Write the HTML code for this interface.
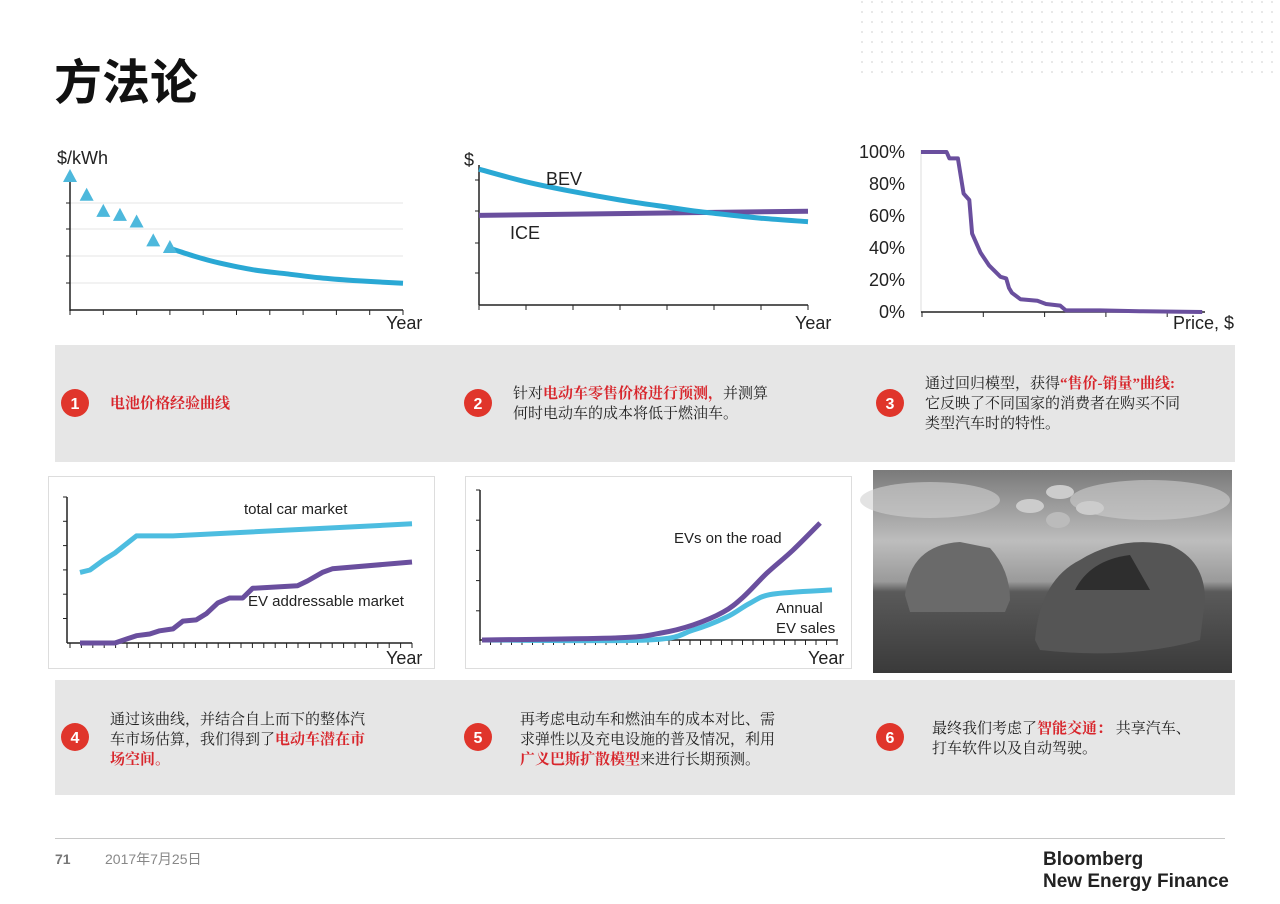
<!DOCTYPE html>
<html><head><meta charset="utf-8">
<style>
body{margin:0;background:#fff;}
#root{position:relative;width:1280px;height:904px;overflow:hidden;background:#fff;font-family:"Liberation Sans","Noto Sans CJK SC",sans-serif;}
svg text{font-family:"Liberation Sans","Noto Sans CJK SC",sans-serif;}
.t{position:absolute;font-family:"Liberation Serif","Noto Serif CJK SC",serif;font-size:15px;line-height:20px;color:#222;}
.r{color:#d8262c;font-weight:bold;}
</style></head>
<body>
<div id="root">
<svg id="s" width="1280" height="904">
<defs>
<pattern id="dots" width="10" height="10" patternUnits="userSpaceOnUse"><circle cx="2" cy="2" r="0.9" fill="#d8d8d8"/></pattern>
<linearGradient id="sky" x1="0" y1="0" x2="0" y2="1"><stop offset="0" stop-color="#7a7a7a"/><stop offset="0.35" stop-color="#bdbdbd"/><stop offset="0.55" stop-color="#9a9a9a"/><stop offset="0.6" stop-color="#5a5a5a"/><stop offset="1" stop-color="#3a3a3a"/></linearGradient>
</defs>
<rect x="860" y="0" width="420" height="75" fill="url(#dots)"/>
<text x="54" y="99" font-size="48" font-weight="bold" font-family="Liberation Sans, Noto Sans CJK SC, sans-serif" fill="#111">方法论</text>
<rect x="55" y="345" width="1180" height="117" fill="#e6e6e6"/>
<rect x="55" y="680" width="1180" height="115" fill="#e6e6e6"/>
<rect x="48.5" y="476.5" width="386" height="192" fill="#fff" stroke="#ddd"/>
<rect x="465.5" y="476.5" width="386" height="192" fill="#fff" stroke="#ddd"/>
<g>
<rect x="873" y="470" width="359" height="203" fill="url(#sky)"/>
<ellipse cx="930" cy="500" rx="70" ry="18" fill="#d0d0d0" opacity="0.6"/>
<ellipse cx="1150" cy="500" rx="80" ry="20" fill="#cfcfcf" opacity="0.6"/>
<path d="M905 595 Q910 545 960 542 L990 548 Q1010 570 1010 600 L1005 612 L910 612 Z" fill="#6a6a6a"/>
<path d="M1035 640 Q1040 580 1080 560 Q1120 535 1170 545 Q1205 560 1205 600 L1200 640 Q1130 660 1040 650 Z" fill="#555"/>
<path d="M1075 590 Q1090 560 1130 555 L1150 590 Z" fill="#2e2e2e"/>
<ellipse cx="1060" cy="492" rx="14" ry="7" fill="#ccc"/><ellipse cx="1030" cy="506" rx="14" ry="7" fill="#ccc"/><ellipse cx="1090" cy="508" rx="14" ry="7" fill="#ccc"/><ellipse cx="1058" cy="520" rx="12" ry="8" fill="#bbb"/>
</g>
<g id="c1"></g><g id="c2"></g><g id="c3"></g><g id="c4"></g><g id="c5"></g>
<line x1="55" y1="838.5" x2="1225" y2="838.5" stroke="#c8c8c8"/>
<text x="55" y="864" font-size="14" font-weight="bold" fill="#777">71</text>
<text x="105" y="864" font-size="14" fill="#888">2017年7月25日</text>
<text x="1043" y="865" font-size="19" font-weight="bold" fill="#222">Bloomberg</text>
<text x="1043" y="887" font-size="19" font-weight="bold" fill="#222">New Energy Finance</text>
</svg>

<div class="t" style="left:110px;top:394px;"><span class="r">电池价格经验曲线</span></div>
<div class="t" style="left:513px;top:384px;">针对<span class="r">电动车零售价格进行预测，</span>并测算<br>何时电动车的成本将低于燃油车。</div>
<div class="t" style="left:925px;top:374px;">通过回归模型，获得<span class="r">“售价-销量”曲线:</span><br>它反映了不同国家的消费者在购买不同<br>类型汽车时的特性。</div>
<div class="t" style="left:110px;top:710px;">通过该曲线，并结合自上而下的整体汽<br>车市场估算，我们得到了<span class="r">电动车潜在市<br>场空间。</span></div>
<div class="t" style="left:520px;top:710px;">再考虑电动车和燃油车的成本对比、需<br>求弹性以及充电设施的普及情况，利用<br><span class="r">广义巴斯扩散模型</span>来进行长期预测。</div>
<div class="t" style="left:932px;top:719px;">最终我们考虑了<span class="r">智能交通：</span> 共享汽车、<br>打车软件以及自动驾驶。</div>

<script>
// Chart 1: battery price
const c1Hist = [[0,100],[1,86],[2,74],[3,71],[4,66],[5,52],[6,47]];
const c1Fcst = [[6,46],[7.5,40],[9,35],[11,30],[13,27],[15,24],[17,22],[20,20]];
// Chart 2: BEV vs ICE
const c2Bev = [[0,97],[1,88],[2,81],[3,75],[4,70],[4.5,67.5],[5,65.5],[6,62],[7,59.5]];
const c2Ice = [[0,64],[7,67]];
// Chart 3: price-volume curve
const c3Price = [0,9,10,13,15,17,18,21,24,28,30,31,32,35,41,44,49,51,63,77,99];
const c3Pct = [100,100,96,96,74,70,49,37,29,22,21,15,12,8,7,5,4,1,1,0.5,0];
const c3Ticks = ["0%","20%","40%","60%","80%","100%"];
// Chart 4: market
const c4TotalX = [0,3,7,10.5,17,28,100];
const c4TotalY = [2.9,3.0,3.4,3.7,4.4,4.4,4.9];
const c4EvX = [0,10.5,17,21,24,28,31,35,38,41.5,45,49,52,65.5,68.5,73,76,100];
const c4EvY = [0,0,0.3,0.37,0.5,0.58,0.9,0.95,1.2,1.65,1.85,1.85,2.25,2.35,2.55,2.9,3.05,3.33];
// Chart 5: adoption
const c5RoadX = [0,38.6,51,60.3,68.9,74.6,81.4,88.9,96.6];
const c5RoadY = [0,0.07,0.23,0.5,0.93,1.43,2.23,3.0,3.9];
const c5SalesX = [0,47.4,60.3,70,76.6,83.1,100];
const c5SalesY = [0,0,0.33,0.77,1.23,1.53,1.67];

const NS="http://www.w3.org/2000/svg";
function mk(g,tag,attrs){const e=document.createElementNS(NS,tag);for(const k in attrs)e.setAttribute(k,attrs[k]);g.appendChild(e);return e;}
function lin(d0,d1,r0,r1){return v=>r0+(v-d0)/(d1-d0)*(r1-r0);}
function pathD(xs,ys,sx,sy){let d="";for(let i=0;i<xs.length;i++)d+=(i?"L":"M")+sx(xs[i]).toFixed(1)+" "+sy(ys[i]).toFixed(1);return d;}
function smoothD(xs,ys,sx,sy){const P=xs.map((x,i)=>[sx(x),sy(ys[i])]);let d="M"+P[0][0]+" "+P[0][1];for(let i=0;i<P.length-1;i++){const p0=P[i-1]||P[i],p1=P[i],p2=P[i+1],p3=P[i+2]||p2;const c1=[p1[0]+(p2[0]-p0[0])/6,p1[1]+(p2[1]-p0[1])/6],c2=[p2[0]-(p3[0]-p1[0])/6,p2[1]-(p3[1]-p1[1])/6];d+=`C${c1[0].toFixed(1)} ${c1[1].toFixed(1)} ${c2[0].toFixed(1)} ${c2[1].toFixed(1)} ${p2[0].toFixed(1)} ${p2[1].toFixed(1)}`;}return d;}
const PU="#6a4f9e";
function txt(g,x,y,s,size,name,anchor){const t=mk(g,"text",{x:x,y:y,"font-size":size,fill:"#222"});if(anchor)t.setAttribute("text-anchor",anchor);t.textContent=s;return t;}

// chart 1
(function(){
const g=document.getElementById("c1");


const sx=lin(0,20,70,403), sy=lin(0,100,310,176);
[203,229,256,283].forEach(y=>{const l=mk(g,"line",{x1:70,x2:403,y1:y,y2:y,stroke:"#e4e4e4"});});
mk(g,"line",{x1:70,x2:70,y1:176,y2:311,stroke:"#222","stroke-width":1.5});
mk(g,"line",{x1:70,x2:403,y1:310,y2:310,stroke:"#222","stroke-width":1.5});
for(let i=0;i<=10;i++){mk(g,"line",{x1:70+i*33.3,x2:70+i*33.3,y1:310,y2:315,stroke:"#222"});}
[203,229,256,283].forEach(y=>mk(g,"line",{x1:66,x2:70,y1:y,y2:y,stroke:"#222"}));
const p=mk(g,"path",{d:smoothD(c1Fcst.map(a=>a[0]),c1Fcst.map(a=>a[1]),sx,sy),fill:"none",stroke:"#2aa8d4","stroke-width":5});

c1Hist.forEach(a=>{const x=sx(a[0]),y=sy(a[1]);const t=mk(g,"path",{d:`M${x} ${y-7}L${x+7} ${y+6}L${x-7} ${y+6}Z`,fill:"#4db8dc"});});
txt(g,57,164,"$/kWh",18,"y-axis-title");
txt(g,386,329,"Year",18,"x-axis-title");
})();

// chart 2
(function(){
const g=document.getElementById("c2");


const sx=lin(0,7,479,808), sy=lin(0,100,305,165);
mk(g,"line",{x1:479,x2:479,y1:165,y2:305,stroke:"#222","stroke-width":1.5});
mk(g,"line",{x1:479,x2:808,y1:305,y2:305,stroke:"#222","stroke-width":1.5});
for(let i=0;i<=7;i++)mk(g,"line",{x1:479+i*47,x2:479+i*47,y1:305,y2:310,stroke:"#222"});
[180,211,243,273].forEach(y=>mk(g,"line",{x1:475,x2:479,y1:y,y2:y,stroke:"#222"}));
const ic=mk(g,"path",{d:pathD(c2Ice.map(a=>a[0]),c2Ice.map(a=>a[1]),sx,sy),fill:"none",stroke:PU,"stroke-width":5});
const b=mk(g,"path",{d:smoothD(c2Bev.map(a=>a[0]),c2Bev.map(a=>a[1]),sx,sy),fill:"none",stroke:"#2aa8d4","stroke-width":5});
txt(g,464,166,"$",18,"y-axis-title");
txt(g,546,185,"BEV",18,"bev-label");
txt(g,510,239,"ICE",18,"ice-label");
txt(g,795,329,"Year",18,"x-axis-title");
})();

// chart 3
(function(){
const g=document.getElementById("c3");


const sx=lin(0,100,921,1205), sy=lin(0,100,312,152);
mk(g,"line",{x1:921,x2:921,y1:150,y2:312,stroke:"#ddd"});
mk(g,"line",{x1:921,x2:1205,y1:312,y2:312,stroke:"#222","stroke-width":1.5});
for(let i=0;i<5;i++)mk(g,"line",{x1:922+i*61.3,x2:922+i*61.3,y1:312,y2:317,stroke:"#222"});
c3Ticks.forEach((s,i)=>txt(g,905,sy(i*20)+6,s,18,"y-tick-label","end"));
const p=mk(g,"path",{d:pathD(c3Price,c3Pct,sx,sy),fill:"none",stroke:PU,"stroke-width":4,"stroke-linejoin":"round"});

txt(g,1173,329,"Price, $",18,"x-axis-title");
})();

// chart 4
(function(){
const g=document.getElementById("c4");


const sx=lin(0,100,80,412), sy=lin(0,6,643,497);
mk(g,"line",{x1:67,x2:67,y1:497,y2:643,stroke:"#222","stroke-width":1.5});
mk(g,"line",{x1:67,x2:412,y1:643,y2:643,stroke:"#222","stroke-width":1.5});
for(let i=0;i<=30;i++)mk(g,"line",{x1:70+i*11.4,x2:70+i*11.4,y1:643,y2:648,stroke:"#222"});
for(let i=0;i<6;i++)mk(g,"line",{x1:63,x2:67,y1:497+i*24.3,y2:497+i*24.3,stroke:"#222"});
const a=mk(g,"path",{d:pathD(c4TotalX,c4TotalY,sx,sy),fill:"none",stroke:"#4dbde0","stroke-width":5,"stroke-linejoin":"round"});
const b=mk(g,"path",{d:pathD(c4EvX,c4EvY,sx,sy),fill:"none",stroke:PU,"stroke-width":5,"stroke-linejoin":"round"});
txt(g,244,514,"total car market",15,"total-car-market-label");
txt(g,248,606,"EV addressable market",15,"ev-market-label");
txt(g,386,664,"Year",18,"x-axis-title");
})();

// chart 5
(function(){
const g=document.getElementById("c5");


const sx=lin(0,100,482,832), sy=lin(0,5,640,490);
mk(g,"line",{x1:480,x2:480,y1:490,y2:641,stroke:"#222","stroke-width":1.5});
mk(g,"line",{x1:480,x2:838,y1:640,y2:640,stroke:"#222","stroke-width":1.5});
for(let i=0;i<=34;i++)mk(g,"line",{x1:480+i*10.5,x2:480+i*10.5,y1:640,y2:645,stroke:"#222"});
for(let i=0;i<5;i++)mk(g,"line",{x1:476,x2:480,y1:490+i*30.2,y2:490+i*30.2,stroke:"#222"});
const a=mk(g,"path",{d:smoothD(c5SalesX,c5SalesY,sx,sy),fill:"none",stroke:"#4dbde0","stroke-width":5,"stroke-linejoin":"round"});
const b=mk(g,"path",{d:smoothD(c5RoadX,c5RoadY,sx,sy),fill:"none",stroke:PU,"stroke-width":5,"stroke-linejoin":"round"});
txt(g,674,543,"EVs on the road",15,"evs-on-road-label");
txt(g,776,613,"Annual",15,"annual-label");
txt(g,776,633,"EV sales",15,"ev-sales-label");
txt(g,808,664,"Year",18,"x-axis-title");
})();

// step number badges
const badges=[[75,403,"1"],[478,403,"2"],[890,403,"3"],[75,737,"4"],[478,737,"5"],[890,737,"6"]];
const sv=document.getElementById("s");
badges.forEach(b=>{
const c=mk(sv,"circle",{cx:b[0],cy:b[1],r:14,fill:"#e0352b"});


const t=mk(sv,"text",{x:b[0],y:b[1]+6,"text-anchor":"middle","font-size":16,"font-weight":"bold",fill:"#fff"});t.textContent=b[2];


});
</script>
</div>
</body></html>
